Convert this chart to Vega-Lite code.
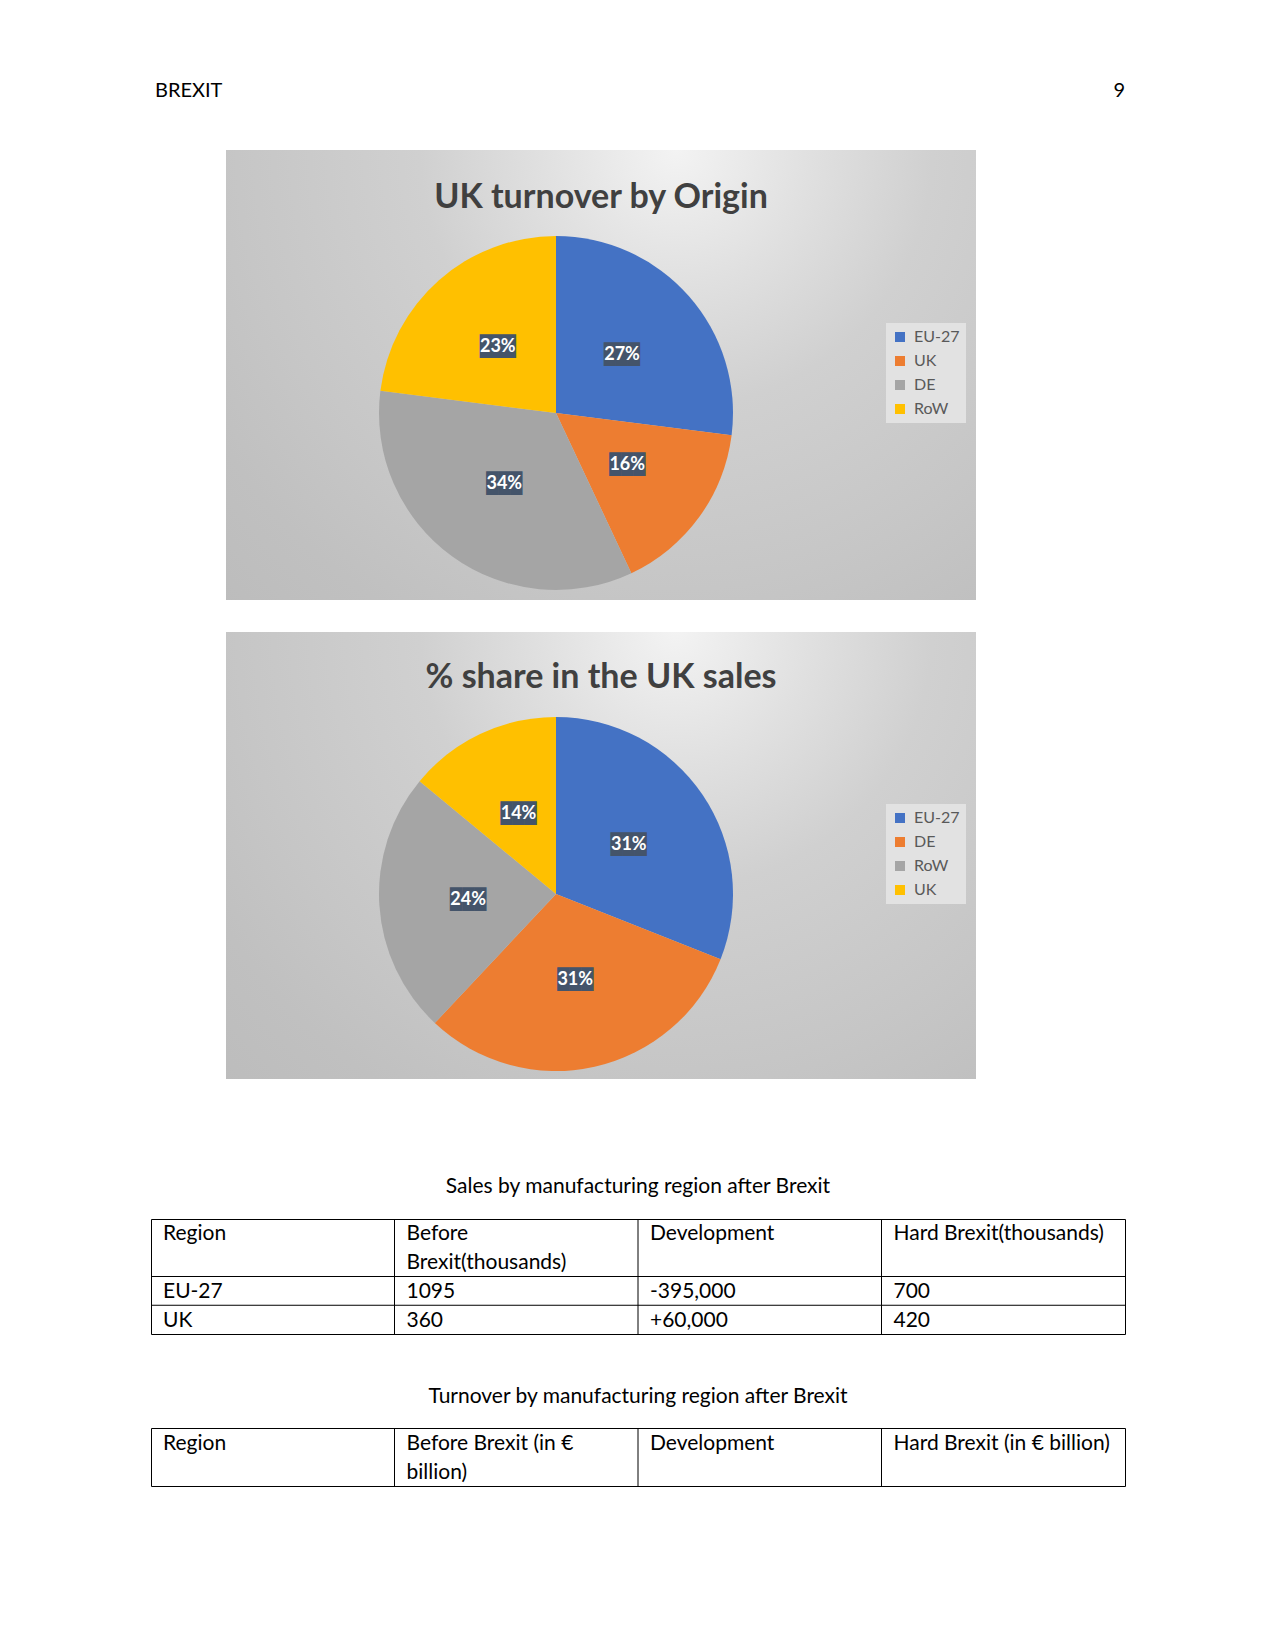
{
  "$schema": "https://vega.github.io/schema/vega-lite/v6.json",
  "background": "white",
  "padding": {"left": 150, "top": 0, "right": 0, "bottom": 0},
  "spacing": 0,
  "resolve": {"scale": {"color": "independent", "theta": "independent"}, "legend": {"color": "independent"}},
  "config": {
    "view": {"stroke": null},
    "font": "Lato",
    "concat": {"spacing": 0},
    "text": {"font": "Lato"}
  },
  "vconcat": [
    {
      "width": 974,
      "height": 150,
      "data": {"values": [{"side": "left", "label": "BREXIT"}, {"side": "right", "label": "9"}]},
      "layer": [
        {
          "transform": [{"filter": "datum.side === 'left'"}],
          "mark": {"type": "text", "align": "left", "baseline": "middle", "dx": 4, "dy": 16, "fontSize": 20, "color": "#000000"},
          "encoding": {
            "x": {"field": "side", "type": "nominal", "scale": {"type": "point", "domain": ["left", "right"], "padding": 0}, "axis": null},
            "text": {"field": "label"}
          }
        },
        {
          "transform": [{"filter": "datum.side === 'right'"}],
          "mark": {"type": "text", "align": "right", "baseline": "middle", "dy": 16, "fontSize": 20, "color": "#000000"},
          "encoding": {
            "x": {"field": "side", "type": "nominal", "scale": {"type": "point", "domain": ["left", "right"], "padding": 0}, "axis": null},
            "text": {"field": "label"}
          }
        }
      ]
    },
    {
      "spacing": 0,
      "resolve": {"scale": {"color": "independent", "theta": "independent"}, "legend": {"color": "independent"}},
      "hconcat": [
        {"width": 75, "height": 450, "data": {"values": []}, "mark": "text"},
        {
          "width": 750,
          "height": 450,
          "view": {
            "stroke": null,
            "fill": {
              "gradient": "radial",
              "x1": 0.6, "y1": 0.2, "r1": 0,
              "x2": 0.6, "y2": 0.2, "r2": 0.9,
              "stops": [
                {"offset": 0, "color": "#f3f3f3"},
                {"offset": 0.2, "color": "#e0e0e0"},
                {"offset": 0.38, "color": "#d0d0d0"},
                {"offset": 0.65, "color": "#c6c6c6"},
                {"offset": 0.8, "color": "#c0c0c0"},
                {"offset": 1, "color": "#bbbbbb"}
              ]
            }
          },
          "title": {"text": "UK turnover by Origin", "fontSize": 34, "fontWeight": "bold", "color": "#404040", "font": "Lato", "anchor": "middle", "frame": "group", "offset": -65},
          "data": {"values": [
            {"Origin": "EU-27", "share": 0.27},
            {"Origin": "UK", "share": 0.16},
            {"Origin": "DE", "share": 0.34},
            {"Origin": "RoW", "share": 0.23}
          ]},
          "transform": [{"window": [{"op": "row_number", "as": "rank"}]}],
          "encoding": {
            "theta": {"field": "share", "type": "quantitative", "stack": true},
            "order": {"field": "rank", "type": "quantitative"}
          },
          "layer": [
            {
              "mark": {"type": "arc", "outerRadius": 177, "x": 330, "y": 263},
              "encoding": {
                "color": {
                  "field": "Origin", "type": "nominal",
                  "scale": {"domain": ["EU-27", "UK", "DE", "RoW"], "range": ["#4472c4", "#ed7d31", "#a5a5a5", "#ffc000"]},
                  "legend": {
                    "orient": "none", "legendX": 660, "legendY": 173, "title": null,
                    "fillColor": "#e2e2e2", "padding": 6, "symbolType": "square", "symbolSize": 100,
                    "symbolStrokeWidth": 0, "labelFontSize": 16, "labelColor": "#595959", "labelFont": "Lato",
                    "rowPadding": 8, "labelOffset": 6
                  }
                }
              }
            },
            {
              "mark": {"type": "text", "radius": 88, "x": 330, "y": 263, "font": "DejaVu Sans Mono", "fontSize": 20, "color": "#44546a", "baseline": "middle"},
              "encoding": {"detail": {"field": "Origin"}, "text": {"value": "███"}}
            },
            {
              "mark": {"type": "text", "radius": 88, "x": 330, "y": 263, "font": "Lato", "fontWeight": "bold", "fontSize": 18, "color": "#ffffff", "baseline": "middle"},
              "encoding": {"detail": {"field": "Origin"}, "text": {"field": "share", "type": "quantitative", "format": ".0%"}}
            }
          ]
        }
      ]
    },
    {"width": 10, "height": 32, "data": {"values": []}, "mark": "text"},
    {
      "spacing": 0,
      "resolve": {"scale": {"color": "independent", "theta": "independent"}, "legend": {"color": "independent"}},
      "hconcat": [
        {"width": 75, "height": 447, "data": {"values": []}, "mark": "text"},
        {
          "width": 750,
          "height": 447,
          "view": {
            "stroke": null,
            "fill": {
              "gradient": "radial",
              "x1": 0.6, "y1": 0.2, "r1": 0,
              "x2": 0.6, "y2": 0.2, "r2": 0.9,
              "stops": [
                {"offset": 0, "color": "#f3f3f3"},
                {"offset": 0.2, "color": "#e0e0e0"},
                {"offset": 0.38, "color": "#d0d0d0"},
                {"offset": 0.65, "color": "#c6c6c6"},
                {"offset": 0.8, "color": "#c0c0c0"},
                {"offset": 1, "color": "#bbbbbb"}
              ]
            }
          },
          "title": {"text": "% share in the UK sales", "fontSize": 34, "fontWeight": "bold", "color": "#404040", "font": "Lato", "anchor": "middle", "frame": "group", "offset": -63},
          "data": {"values": [
            {"Origin": "EU-27", "share": 0.31},
            {"Origin": "DE", "share": 0.31},
            {"Origin": "RoW", "share": 0.24},
            {"Origin": "UK", "share": 0.14}
          ]},
          "transform": [{"window": [{"op": "row_number", "as": "rank"}]}],
          "encoding": {
            "theta": {"field": "share", "type": "quantitative", "stack": true},
            "order": {"field": "rank", "type": "quantitative"}
          },
          "layer": [
            {
              "mark": {"type": "arc", "outerRadius": 177, "x": 330, "y": 262},
              "encoding": {
                "color": {
                  "field": "Origin", "type": "nominal",
                  "scale": {"domain": ["EU-27", "DE", "RoW", "UK"], "range": ["#4472c4", "#ed7d31", "#a5a5a5", "#ffc000"]},
                  "legend": {
                    "orient": "none", "legendX": 660, "legendY": 172, "title": null,
                    "fillColor": "#e2e2e2", "padding": 6, "symbolType": "square", "symbolSize": 100,
                    "symbolStrokeWidth": 0, "labelFontSize": 16, "labelColor": "#595959", "labelFont": "Lato",
                    "rowPadding": 8, "labelOffset": 6
                  }
                }
              }
            },
            {
              "mark": {"type": "text", "radius": 88, "x": 330, "y": 262, "font": "DejaVu Sans Mono", "fontSize": 20, "color": "#44546a", "baseline": "middle"},
              "encoding": {"detail": {"field": "Origin"}, "text": {"value": "███"}}
            },
            {
              "mark": {"type": "text", "radius": 88, "x": 330, "y": 262, "font": "Lato", "fontWeight": "bold", "fontSize": 18, "color": "#ffffff", "baseline": "middle"},
              "encoding": {"detail": {"field": "Origin"}, "text": {"field": "share", "type": "quantitative", "format": ".0%"}}
            }
          ]
        }
      ]
    },
    {
      "width": 974,
      "height": 139,
      "data": {"values": [{"caption": "Sales by manufacturing region after Brexit"}]},
      "mark": {"type": "text", "fontSize": 21, "color": "#000000", "baseline": "middle", "dy": 38},
      "encoding": {"text": {"field": "caption"}}
    },
    {
      "width": 974,
      "height": 115,
      "view": {"stroke": "#000000", "strokeWidth": 1},
      "encoding": {
        "x": {"field": "col", "type": "nominal", "bandPosition": 0,
          "scale": {"type": "band", "domain": ["Region", "Before Brexit(thousands)", "Development", "Hard Brexit(thousands)"], "paddingInner": 0, "paddingOuter": 0},
          "axis": null}
      },
      "layer": [
        {
          "data": {"values": [
            {"col": "Region", "line": "head 1", "text": "Region"},
            {"col": "Before Brexit(thousands)", "line": "head 1", "text": "Before"},
            {"col": "Before Brexit(thousands)", "line": "head 2", "text": "Brexit(thousands)"},
            {"col": "Development", "line": "head 1", "text": "Development"},
            {"col": "Hard Brexit(thousands)", "line": "head 1", "text": "Hard Brexit(thousands)"}
          ]},
          "layer": [
            {
              "transform": [{"filter": "datum.line === 'head 1' && datum.col !== 'Region'"}],
              "mark": {"type": "rule", "color": "#000000", "strokeWidth": 1},
              "encoding": {}
            },
            {
              "mark": {"type": "text", "align": "left", "baseline": "middle", "dx": 12, "dy": 1, "fontSize": 21, "color": "#000000"},
              "encoding": {
                "y": {"field": "line", "type": "nominal", "scale": {"type": "band", "domain": ["head 1", "head 2", "EU-27", "UK"], "paddingInner": 0, "paddingOuter": 0}, "axis": null},
                "text": {"field": "text"}
              }
            }
          ]
        },
        {
          "data": {"values": [
            {"Region": "EU-27", "Before Brexit(thousands)": "1095", "Development": "-395,000", "Hard Brexit(thousands)": "700"},
            {"Region": "UK", "Before Brexit(thousands)": "360", "Development": "+60,000", "Hard Brexit(thousands)": "420"}
          ]},
          "transform": [{"fold": ["Region", "Before Brexit(thousands)", "Development", "Hard Brexit(thousands)"], "as": ["col", "value"]}],
          "layer": [
            {
              "transform": [{"filter": "datum.col === 'Region'"}],
              "mark": {"type": "rule", "color": "#000000", "strokeWidth": 1},
              "encoding": {
                "x": null,
                "y": {"field": "Region", "type": "nominal", "bandPosition": 0,
                  "scale": {"type": "band", "domain": ["head 1", "head 2", "EU-27", "UK"], "paddingInner": 0, "paddingOuter": 0},
                  "axis": null}
              }
            },
            {
              "mark": {"type": "text", "align": "left", "baseline": "middle", "dx": 12, "dy": 1, "fontSize": 21, "color": "#000000"},
              "encoding": {
                "y": {"field": "Region", "type": "nominal", "bandPosition": 0.5, "scale": {"type": "band", "domain": ["head 1", "head 2", "EU-27", "UK"], "paddingInner": 0, "paddingOuter": 0}, "axis": null},
                "text": {"field": "value"}
              }
            }
          ]
        }
      ]
    },
    {
      "width": 974,
      "height": 92,
      "data": {"values": [{"caption": "Turnover by manufacturing region after Brexit"}]},
      "mark": {"type": "text", "fontSize": 21, "color": "#000000", "baseline": "middle", "dy": 16},
      "encoding": {"text": {"field": "caption"}}
    },
    {
      "width": 974,
      "height": 58,
      "view": {"stroke": "#000000", "strokeWidth": 1},
      "data": {"values": [
        {"col": "Region", "line": 1, "text": "Region"},
        {"col": "Before Brexit (in € billion)", "line": 1, "text": "Before Brexit (in €"},
        {"col": "Before Brexit (in € billion)", "line": 2, "text": "billion)"},
        {"col": "Development", "line": 1, "text": "Development"},
        {"col": "Hard Brexit (in € billion)", "line": 1, "text": "Hard Brexit (in € billion)"}
      ]},
      "encoding": {
        "x": {"field": "col", "type": "nominal", "bandPosition": 0,
          "scale": {"type": "band", "domain": ["Region", "Before Brexit (in € billion)", "Development", "Hard Brexit (in € billion)"], "paddingInner": 0, "paddingOuter": 0},
          "axis": null}
      },
      "layer": [
        {
          "transform": [{"filter": "datum.line === 1 && datum.col !== 'Region'"}],
          "mark": {"type": "rule", "color": "#000000", "strokeWidth": 1},
          "encoding": {}
        },
        {
          "mark": {"type": "text", "align": "left", "baseline": "middle", "dx": 12, "dy": 1, "fontSize": 21, "color": "#000000"},
          "encoding": {
            "y": {"field": "line", "type": "ordinal", "scale": {"type": "band", "domain": [1, 2], "paddingInner": 0, "paddingOuter": 0}, "axis": null},
            "text": {"field": "text"}
          }
        }
      ]
    }
  ]
}
